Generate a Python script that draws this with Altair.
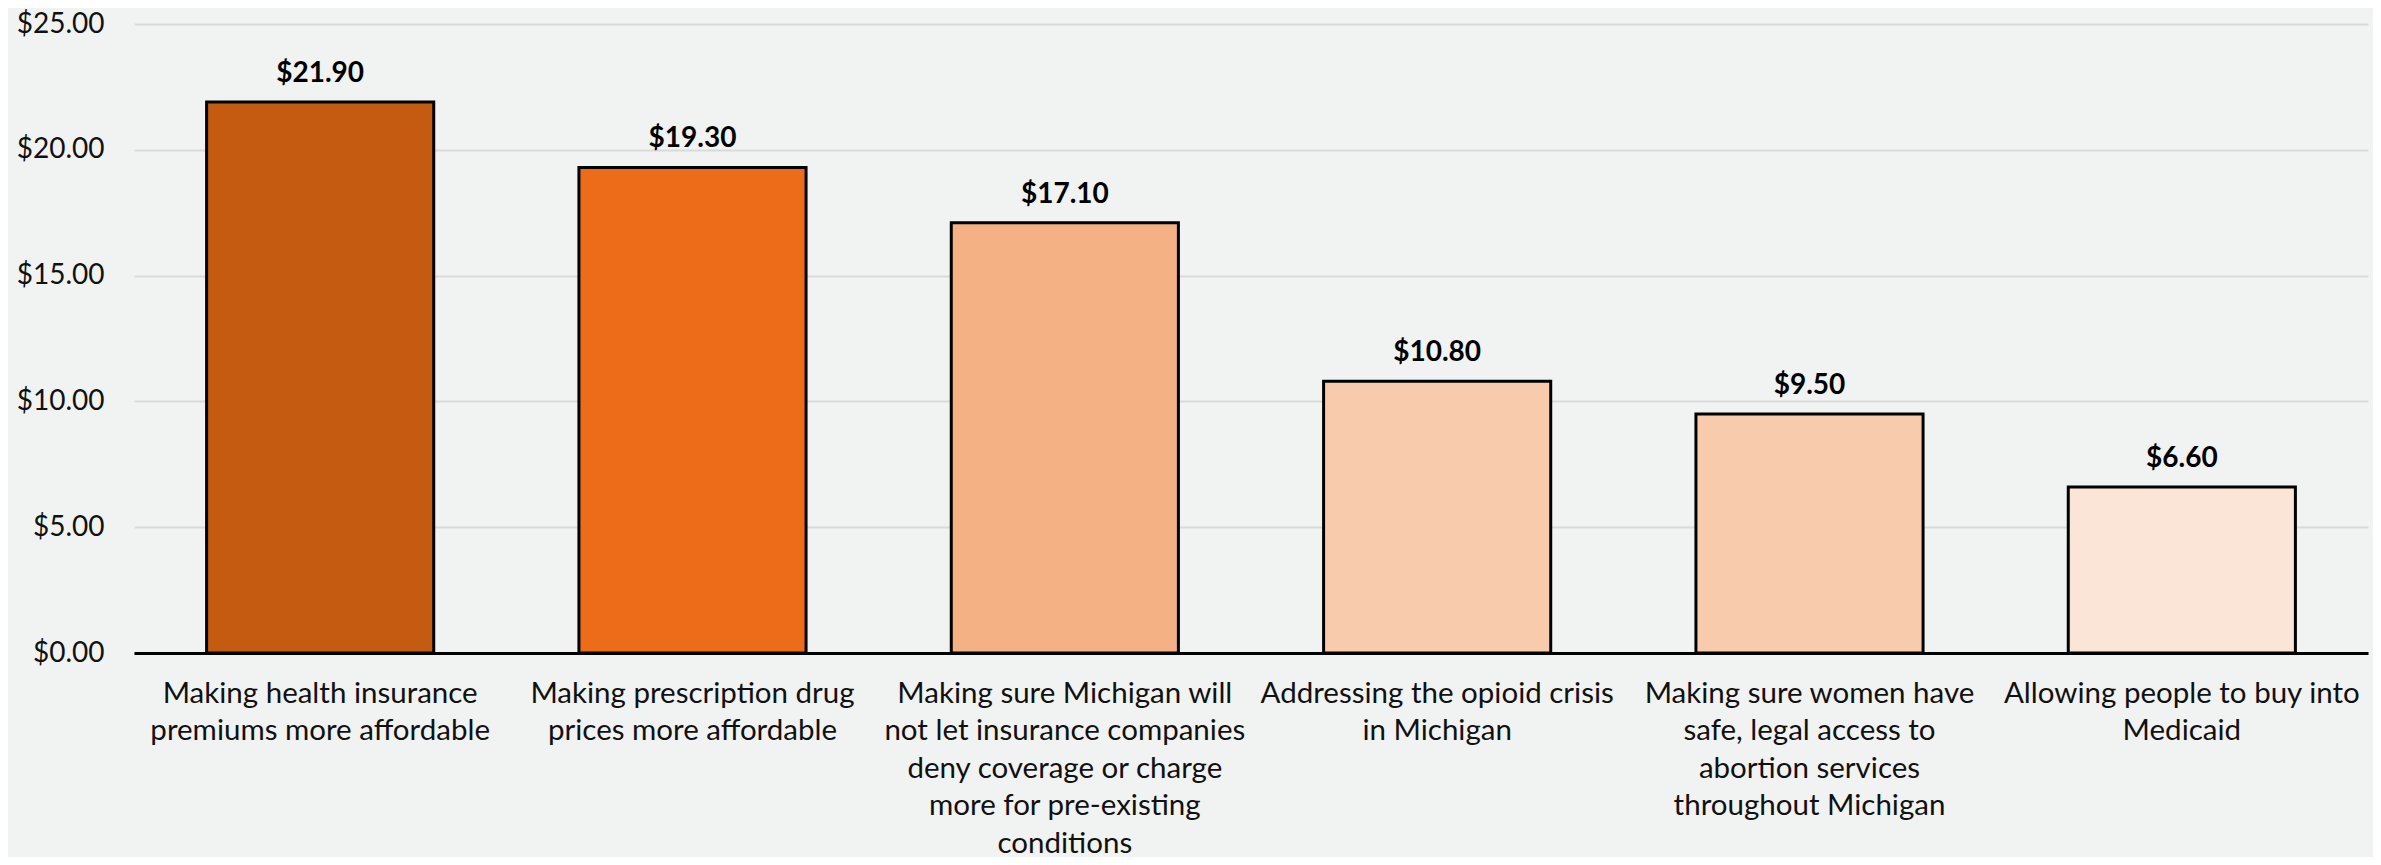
import altair as alt
import pandas as pd

categories = [
    "Making health insurance|premiums more affordable",
    "Making prescription drug|prices more affordable",
    "Making sure Michigan will|not let insurance companies|deny coverage or charge|more for pre-existing|conditions",
    "Addressing the opioid crisis|in Michigan",
    "Making sure women have|safe, legal access to|abortion services|throughout Michigan",
    "Allowing people to buy into|Medicaid",
]
values = [21.90, 19.30, 17.10, 10.80, 9.50, 6.60]
bar_colors = ["#C55A11", "#EC6C19", "#F4B183", "#F8CBAD", "#F8CBAD", "#FBE5D6"]

df = pd.DataFrame({"category": categories, "value": values})

FONT = "Lato"
x = alt.X(
    "category:N",
    sort=categories,
    scale=alt.Scale(paddingInner=0.39, paddingOuter=0.195),
    axis=alt.Axis(
        title=None,
        labelAngle=0,
        labelExpr="split(datum.label, '|')",
        labelFont=FONT,
        labelFontSize=29.5,
        labelColor="#111111",
        labelLineHeight=37.5,
        labelPadding=26,
        labelLimit=0,
        ticks=False,
        domain=True,
        domainColor="#000000",
        domainWidth=3,
        grid=False,
    ),
)

bars = alt.Chart(df).mark_bar(stroke="#000000", strokeWidth=3).encode(
    x=x,
    y=alt.Y(
        "value:Q",
        scale=alt.Scale(domain=[0, 25], nice=False),
        axis=alt.Axis(
            title=None,
            values=[0, 5, 10, 15, 20, 25],
            format="$.2f",
            labelFont=FONT,
            labelFontSize=28,
            labelColor="#111111",
            labelPadding=30,
            ticks=False,
            domain=False,
            grid=True,
            gridColor="#D9D9D9",
            gridWidth=2,
        ),
    ),
    color=alt.Color(
        "category:N",
        sort=categories,
        scale=alt.Scale(domain=categories, range=bar_colors),
        legend=None,
    ),
)

text = alt.Chart(df).mark_text(
    font=FONT, fontSize=28, fontWeight="bold", color="#000000",
    baseline="alphabetic", dy=-20,
).encode(
    x=alt.X("category:N", sort=categories),
    y=alt.Y("value:Q"),
    text=alt.Text("value:Q", format="$.2f"),
)

chart = (bars + text).properties(
    width=2234,
    height=629,
    background="#F1F3F2",
    autosize=alt.AutoSizeParams(type="none"),
    padding={"left": 126, "top": 16, "right": 5, "bottom": 204},
).configure_view(stroke=None)

chart.save("out.html", embed_options={"renderer": "svg", "actions": False})
